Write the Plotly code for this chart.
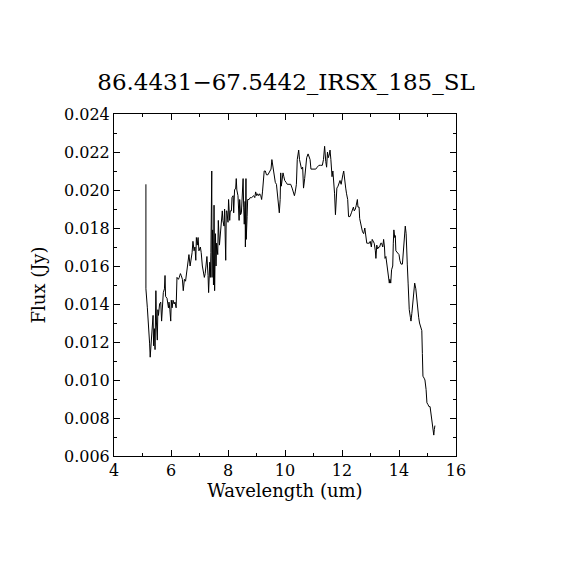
import plotly.graph_objects as go

# spectrum (wavelength in um, flux in Jy)
wavelength = [
    5.12, 5.12, 5.17, 5.23, 5.25, 5.27, 5.31, 5.37, 5.39, 5.42, 5.44, 5.47, 5.49, 5.52, 5.54,
    5.56, 5.60, 5.64, 5.67, 5.70, 5.73, 5.77, 5.79, 5.81, 5.86, 5.91, 5.93, 5.96, 5.99, 6.01,
    6.04, 6.07, 6.11, 6.14, 6.18, 6.21, 6.26, 6.29, 6.33, 6.36, 6.40, 6.43, 6.47, 6.51, 6.55,
    6.58, 6.61, 6.63, 6.67, 6.70, 6.74, 6.77, 6.81, 6.84, 6.87, 6.89, 6.92, 6.95, 6.98, 7.03,
    7.06, 7.10, 7.13, 7.17, 7.20, 7.24, 7.26, 7.30, 7.32, 7.36, 7.38, 7.40, 7.43, 7.44, 7.46,
    7.49, 7.51, 7.53, 7.56, 7.58, 7.60, 7.64, 7.66, 7.70, 7.73, 7.77, 7.80, 7.82, 7.86, 7.88,
    7.92, 7.94, 7.96, 8.00, 8.02, 8.06, 8.08, 8.12, 8.14, 8.18, 8.20, 8.23, 8.27, 8.29, 8.31,
    8.35, 8.39, 8.41, 8.44, 8.47, 8.49, 8.53, 8.55, 8.57, 8.60, 8.61, 8.63, 8.64, 8.67, 8.69,
    8.74, 8.78, 8.83, 8.87, 8.90, 8.94, 8.97, 9.01, 9.04, 9.08, 9.11, 9.15, 9.18, 9.21, 9.24,
    9.27, 9.31, 9.35, 9.40, 9.44, 9.48, 9.51, 9.54, 9.57, 9.59, 9.62, 9.66, 9.70, 9.73, 9.75,
    9.78, 9.80, 9.83, 9.85, 9.87, 9.91, 9.93, 9.96, 9.99, 10.04, 10.08, 10.14, 10.20, 10.25,
    10.29, 10.33, 10.36, 10.40, 10.43, 10.48, 10.51, 10.55, 10.58, 10.62, 10.65, 10.69, 10.72,
    10.76, 10.81, 10.84, 10.88, 10.91, 10.96, 11.02, 11.08, 11.13, 11.19, 11.25, 11.31, 11.35,
    11.37, 11.39, 11.43, 11.46, 11.49, 11.52, 11.56, 11.58, 11.61, 11.65, 11.68, 11.72, 11.74,
    11.77, 11.79, 11.82, 11.86, 11.89, 11.93, 11.97, 12.00, 12.03, 12.06, 12.09, 12.13, 12.16,
    12.20, 12.23, 12.28, 12.33, 12.36, 12.40, 12.43, 12.47, 12.50, 12.54, 12.56, 12.60, 12.62,
    12.66, 12.69, 12.72, 12.76, 12.80, 12.83, 12.87, 12.91, 12.96, 12.99, 13.03, 13.06, 13.10,
    13.13, 13.17, 13.19, 13.22, 13.25, 13.29, 13.32, 13.36, 13.39, 13.43, 13.46, 13.49, 13.51,
    13.54, 13.57, 13.60, 13.64, 13.66, 13.68, 13.71, 13.74, 13.78, 13.80, 13.82, 13.85, 13.87,
    13.89, 13.93, 13.96, 14.00, 14.03, 14.07, 14.12, 14.15, 14.19, 14.22, 14.25, 14.27, 14.29,
    14.32, 14.34, 14.36, 14.40, 14.42, 14.45, 14.48, 14.51, 14.55, 14.59, 14.62, 14.66, 14.69,
    14.72, 14.76, 14.80, 14.82, 14.84, 14.88, 14.91, 14.95, 14.98, 15.02, 15.05, 15.09, 15.12,
    15.16, 15.18, 15.22, 15.24, 15.26,
]
flux = [
    0.0203, 0.0148, 0.0138, 0.0127, 0.0119, 0.0112, 0.0119, 0.0134, 0.0118, 0.0127, 0.0116, 0.0147, 0.0130, 0.0121, 0.0137,
    0.0134, 0.0140, 0.0141, 0.0131, 0.0137, 0.0146, 0.0148, 0.0155, 0.0144, 0.0143, 0.0138, 0.0141, 0.0137, 0.0131, 0.0142,
    0.0138, 0.0142, 0.0140, 0.0141, 0.0138, 0.0154, 0.0153, 0.0154, 0.0156, 0.0155, 0.0153, 0.0147, 0.0153, 0.0152, 0.0156,
    0.0160, 0.0162, 0.0166, 0.0160, 0.0163, 0.0167, 0.0173, 0.0168, 0.0170, 0.0163, 0.0175, 0.0171, 0.0175, 0.0168, 0.0170,
    0.0167, 0.0160, 0.0156, 0.0154, 0.0156, 0.0162, 0.0165, 0.0155, 0.0146, 0.0162, 0.0154, 0.0167, 0.0210, 0.0154, 0.0179,
    0.0150, 0.0192, 0.0147, 0.0177, 0.0160, 0.0172, 0.0166, 0.0184, 0.0171, 0.0178, 0.0182, 0.0189, 0.0184, 0.0181, 0.0190,
    0.0163, 0.0189, 0.0189, 0.0183, 0.0195, 0.0184, 0.0189, 0.0189, 0.0196, 0.0197, 0.0188, 0.0200, 0.0201, 0.0206, 0.0200,
    0.0197, 0.0184, 0.0195, 0.0187, 0.0188, 0.0198, 0.0206, 0.0191, 0.0182, 0.0194, 0.0170, 0.0206, 0.0174, 0.0186, 0.0195,
    0.0195, 0.0196, 0.0196, 0.0197, 0.0197, 0.0196, 0.0199, 0.0197, 0.0198, 0.0197, 0.0198, 0.0197, 0.0195, 0.0199, 0.0205,
    0.0210, 0.0210, 0.0208, 0.0208, 0.0209, 0.0210, 0.0211, 0.0216, 0.0213, 0.0209, 0.0207, 0.0204, 0.0203, 0.0198, 0.0193,
    0.0192, 0.0188, 0.0195, 0.0209, 0.0202, 0.0207, 0.0209, 0.0207, 0.0205, 0.0204, 0.0203, 0.0203, 0.0203, 0.0201,
    0.0198, 0.0197, 0.0199, 0.0203, 0.0216, 0.0221, 0.0216, 0.0213, 0.0211, 0.0212, 0.0201, 0.0206, 0.0212,
    0.0217, 0.0219, 0.0218, 0.0216, 0.0211, 0.0211, 0.0211, 0.0211, 0.0212, 0.0213, 0.0213, 0.0213, 0.0216,
    0.0220, 0.0223, 0.0215, 0.0212, 0.0220, 0.0217, 0.0219, 0.0221, 0.0216, 0.0207, 0.0210, 0.0204, 0.0198,
    0.0187, 0.0198, 0.0201, 0.0202, 0.0203, 0.0205, 0.0203, 0.0207, 0.0208, 0.0210, 0.0205, 0.0201, 0.0198,
    0.0195, 0.0186, 0.0186, 0.0188, 0.0189, 0.0191, 0.0189, 0.0190, 0.0192, 0.0195, 0.0191, 0.0191, 0.0185,
    0.0181, 0.0180, 0.0178, 0.0177, 0.0180, 0.0176, 0.0172, 0.0172, 0.0172, 0.0173, 0.0170, 0.0174, 0.0173,
    0.0172, 0.0168, 0.0164, 0.0171, 0.0169, 0.0170, 0.0170, 0.0172, 0.0172, 0.0170, 0.0174, 0.0170, 0.0164,
    0.0165, 0.0161, 0.0158, 0.0154, 0.0151, 0.0153, 0.0151, 0.0158, 0.0160, 0.0172, 0.0179, 0.0175, 0.0176,
    0.0168, 0.0167, 0.0167, 0.0166, 0.0163, 0.0161, 0.0161, 0.0167, 0.0175, 0.0181, 0.0177, 0.0172, 0.0161,
    0.0151, 0.0142, 0.0137, 0.0133, 0.0131, 0.0135, 0.0140, 0.0146, 0.0151, 0.0148, 0.0142, 0.0137, 0.0133,
    0.0130, 0.0128, 0.0126, 0.0114, 0.0102, 0.0101, 0.0100, 0.0095, 0.0088, 0.0087, 0.0086, 0.0086, 0.0082,
    0.0078, 0.0073, 0.0071, 0.0074, 0.0076,
]

title_txt = '86.4431\u221267.5442_IRSX_185_SL'
x_ticks = [4, 6, 8, 10, 12, 14, 16]
y_ticks = [0.006, 0.008, 0.010, 0.012, 0.014, 0.016, 0.018, 0.020, 0.022, 0.024]

fnt = 'DejaVu Serif'

fig = go.Figure(go.Scatter(x=wavelength, y=flux, mode='lines',
                           line=dict(color='black', width=1), showlegend=False))

ax_style = dict(showline=True, linecolor='black', linewidth=1, mirror='ticks',
                ticks='inside', ticklen=6, tickwidth=1, tickcolor='black',
                showgrid=False, zeroline=False,
                tickfont=dict(family=fnt, size=16, color='black'))

fig.update_xaxes(range=[4, 16], tickvals=x_ticks, ticktext=[str(v) for v in x_ticks],
                 minor=dict(dtick=1, ticks='inside', ticklen=3, tickcolor='black', showgrid=False),
                 title=dict(text='Wavelength (um)', font=dict(family=fnt, size=18, color='black'),
                            standoff=4),
                 **ax_style)
fig.update_yaxes(range=[0.006, 0.024], tickvals=y_ticks, ticktext=['%.3f' % v for v in y_ticks],
                 minor=dict(dtick=0.001, tick0=0.006, ticks='inside', ticklen=3, tickcolor='black',
                            showgrid=False),
                 title=dict(text='Flux (Jy)', font=dict(family=fnt, size=18, color='black'),
                            standoff=13),
                 **ax_style)

# page is drawn 8px in from the window corner, so margins are shifted to compensate
fig.update_layout(
    width=570, height=570,
    margin=dict(l=106, r=122, t=106, b=122),
    paper_bgcolor='white', plot_bgcolor='white',
    title=dict(text=title_txt, x=(286 - 8) / 570, xanchor='center', y=1 - 74 / 570, yanchor='middle',
               font=dict(family=fnt, size=23, color='black')),
)

fig.write_html('out.html')
